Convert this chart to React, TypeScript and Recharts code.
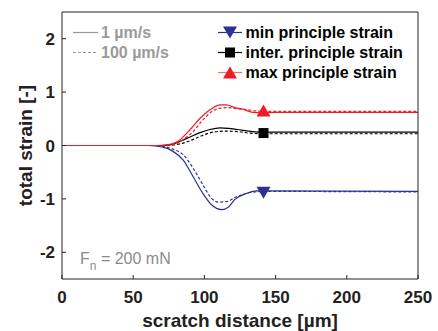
import { ComposedChart, Line, Scatter, XAxis, YAxis } from 'recharts';

type Pt = { x: number; y: number };

const xTicks = [0, 50, 100, 150, 200, 250];
const yTicks = [-2, -1, 0, 1, 2];

// min principle strain (blue)
const minSolid: Pt[] = [
  { x: 0, y: 0 }, { x: 60, y: 0 }, { x: 71, y: -0.03 }, { x: 78, y: -0.11 },
  { x: 85, y: -0.27 }, { x: 92, y: -0.58 }, { x: 99, y: -0.9 }, { x: 105, y: -1.11 },
  { x: 112, y: -1.2 }, { x: 117, y: -1.15 }, { x: 121.4, y: -1.01 }, { x: 129.6, y: -0.9 },
  { x: 136.6, y: -0.85 }, { x: 142, y: -0.85 }, { x: 250, y: -0.86 },
];
const minDashed: Pt[] = [
  { x: 0, y: 0 }, { x: 65, y: 0 }, { x: 72, y: -0.02 }, { x: 78, y: -0.07 },
  { x: 85, y: -0.17 }, { x: 92, y: -0.42 }, { x: 99, y: -0.74 }, { x: 105, y: -0.99 },
  { x: 110, y: -1.06 }, { x: 115.6, y: -1.05 }, { x: 122.5, y: -0.96 }, { x: 132, y: -0.88 },
  { x: 142, y: -0.86 }, { x: 250, y: -0.87 },
];

// inter. principle strain (black)
const interSolid: Pt[] = [
  { x: 0, y: 0 }, { x: 70, y: 0 }, { x: 76, y: 0.01 }, { x: 83, y: 0.08 },
  { x: 90, y: 0.16 }, { x: 97, y: 0.24 }, { x: 104, y: 0.3 }, { x: 111, y: 0.33 },
  { x: 117, y: 0.32 }, { x: 123, y: 0.3 }, { x: 134, y: 0.26 }, { x: 142, y: 0.25 },
  { x: 250, y: 0.25 },
];
const interDashed: Pt[] = [
  { x: 0, y: 0 }, { x: 72, y: 0 }, { x: 78, y: 0.01 }, { x: 85, y: 0.045 },
  { x: 91, y: 0.1 }, { x: 97, y: 0.17 }, { x: 106, y: 0.25 }, { x: 115, y: 0.27 },
  { x: 124, y: 0.26 }, { x: 132, y: 0.23 }, { x: 142, y: 0.22 }, { x: 250, y: 0.22 },
];

// max principle strain (red)
const maxSolid: Pt[] = [
  { x: 0, y: 0 }, { x: 62, y: 0 }, { x: 70, y: 0.005 }, { x: 76, y: 0.02 },
  { x: 83, y: 0.11 }, { x: 90, y: 0.3 }, { x: 97, y: 0.51 }, { x: 104, y: 0.67 },
  { x: 111, y: 0.76 }, { x: 115.6, y: 0.76 }, { x: 121.4, y: 0.71 }, { x: 127, y: 0.68 },
  { x: 134, y: 0.62 }, { x: 140, y: 0.615 }, { x: 150, y: 0.62 }, { x: 250, y: 0.62 },
];
const maxDashed: Pt[] = [
  { x: 0, y: 0 }, { x: 70, y: 0 }, { x: 78, y: 0.02 }, { x: 85, y: 0.11 },
  { x: 92, y: 0.26 }, { x: 99, y: 0.48 }, { x: 106, y: 0.65 }, { x: 112, y: 0.7 },
  { x: 117, y: 0.71 }, { x: 122.5, y: 0.69 }, { x: 130, y: 0.67 }, { x: 138, y: 0.645 },
  { x: 145, y: 0.64 }, { x: 250, y: 0.64 },
];

const minMarker: Pt[] = [{ x: 141.5, y: -0.885 }];
const interMarker: Pt[] = [{ x: 141.5, y: 0.233 }];
const maxMarker: Pt[] = [{ x: 141.5, y: 0.655 }];

const BLUE = '#2e3192';
const RED = '#ee1d23';
const BLACK = '#000000';
const GRAY = '#9a9a9a';
const FONT = '"Liberation Sans", Arial, sans-serif';

const triDown = (p: any) => (
  <polygon points={`${p.cx - 7},${p.cy - 6} ${p.cx + 7},${p.cy - 6} ${p.cx},${p.cy + 6}`} fill={BLUE} />
);
const triUp = (p: any) => (
  <polygon points={`${p.cx - 7},${p.cy + 6} ${p.cx + 7},${p.cy + 6} ${p.cx},${p.cy - 6}`} fill={RED} />
);
const square = (p: any) => <rect x={p.cx - 5} y={p.cy - 5} width={10} height={10} fill={BLACK} />;

const tickStyle = { fontSize: 17, fontWeight: 700, fill: '#222', fontFamily: FONT };

function series(data: Pt[], color: string, dashed: boolean, key: string) {
  return (
    <Line
      key={key}
      data={data}
      dataKey="y"
      xAxisId="b"
      yAxisId="l"
      type="monotone"
      stroke={color}
      strokeWidth={1.2}
      strokeDasharray={dashed ? '3 2' : undefined}
      dot={false}
      activeDot={false}
      isAnimationActive={false}
    />
  );
}

export default function App() {
  return (
    <div style={{ position: 'absolute', left: 0, top: 0, width: 438, height: 331, background: '#fff', fontFamily: FONT }}>
      <ComposedChart width={438} height={331} margin={{ top: 11, right: 19, left: 0, bottom: 0 }}>
        <XAxis
          xAxisId="b"
          type="number"
          dataKey="x"
          domain={[0, 250]}
          ticks={xTicks}
          height={52}
          tickSize={-4}
          tickMargin={16}
          tick={tickStyle}
          stroke="#222"
          label={{ value: 'scratch distance [µm]', position: 'center', dy: 15, style: { fontSize: 19, fontWeight: 700, fill: '#222', fontFamily: FONT } }}
        />
        <XAxis
          xAxisId="t"
          orientation="top"
          type="number"
          dataKey="x"
          domain={[0, 250]}
          ticks={xTicks}
          height={1}
          tickSize={-4}
          tick={false}
          stroke="#222"
        />
        <YAxis
          yAxisId="l"
          type="number"
          domain={[-2.5, 2.5]}
          ticks={yTicks}
          width={62}
          tickSize={-4}
          tickMargin={11}
          tick={tickStyle}
          stroke="#222"
          label={{ value: 'total strain [-]', angle: -90, position: 'center', dx: -6, style: { fontSize: 19, fontWeight: 700, fill: '#222', fontFamily: FONT } }}
        />
        <YAxis
          yAxisId="r"
          orientation="right"
          type="number"
          domain={[-2.5, 2.5]}
          ticks={yTicks}
          width={1}
          tickSize={-4}
          tick={false}
          stroke="#222"
        />
        {series(minSolid, BLUE, false, 'ms')}
        {series(minDashed, BLUE, true, 'md')}
        {series(interSolid, BLACK, false, 'is')}
        {series(interDashed, BLACK, true, 'id')}
        {series(maxSolid, RED, false, 'xs')}
        {series(maxDashed, RED, true, 'xd')}
        <Line data={minSolid} dataKey="y" xAxisId="t" yAxisId="r" stroke="none" dot={false} activeDot={false} isAnimationActive={false} />
        <Scatter data={minMarker} dataKey="y" xAxisId="b" yAxisId="l" shape={triDown} isAnimationActive={false} />
        <Scatter data={interMarker} dataKey="y" xAxisId="b" yAxisId="l" shape={square} isAnimationActive={false} />
        <Scatter data={maxMarker} dataKey="y" xAxisId="b" yAxisId="l" shape={triUp} isAnimationActive={false} />
      </ComposedChart>
      <svg width={438} height={331} style={{ position: 'absolute', left: 0, top: 0, pointerEvents: 'none' }}>
        <g fontFamily={FONT} fontSize={16} fontWeight={700}>
          <line x1={73} x2={98} y1={32.5} y2={32.5} stroke={GRAY} strokeWidth={1.2} />
          <text x={101} y={38} fill={GRAY}>1 µm/s</text>
          <line x1={73} x2={98} y1={52.5} y2={52.5} stroke={GRAY} strokeWidth={1.2} strokeDasharray="3 2" />
          <text x={101} y={58} fill={GRAY}>100 µm/s</text>

          <line x1={218} x2={242} y1={32.5} y2={32.5} stroke={BLUE} strokeWidth={1.2} />
          <polygon points="223,26.5 237,26.5 230,38.5" fill={BLUE} />
          <text x={245.5} y={38} fill="#000">min principle strain</text>
          <line x1={218} x2={242} y1={52.5} y2={52.5} stroke={BLACK} strokeWidth={1.2} />
          <rect x={225} y={47.5} width={10} height={10} fill={BLACK} />
          <text x={245.5} y={58} fill="#000">inter. principle strain</text>
          <line x1={218} x2={242} y1={72.5} y2={72.5} stroke="#f07070" strokeWidth={1.2} />
          <polygon points="223,78.5 237,78.5 230,66.5" fill={RED} />
          <text x={245.5} y={78} fill="#000">max principle strain</text>
        </g>
        <text x={80} y={264} fontFamily={FONT} fontSize={16} fill="#8a8a8a">
          F<tspan dy={6} fontSize={12}>n</tspan><tspan dy={-6}> = 200 mN</tspan>
        </text>
      </svg>
    </div>
  );
}
